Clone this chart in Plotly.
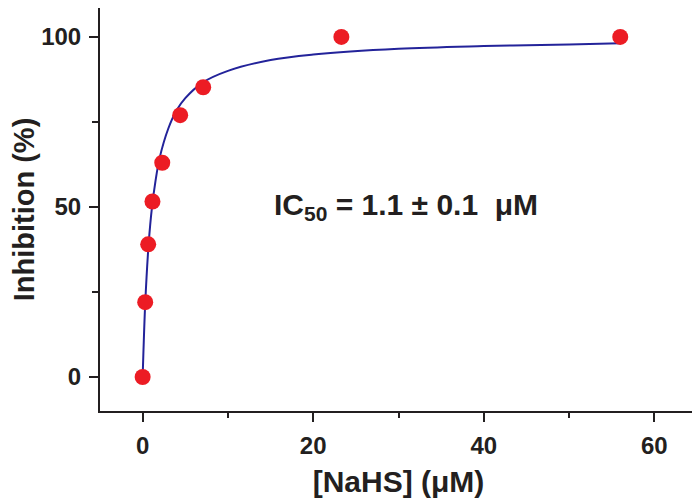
import plotly.graph_objects as go

# measured points
nahs_um = [0, 0.3, 0.65, 1.15, 2.3, 4.4, 7.1, 23.3, 56]
inhibition = [0, 22, 39, 51.6, 63, 77, 85.2, 100, 100]

# fitted curve
fit_x = [0, 0.1, 0.3, 0.7, 1.1, 1.5, 2, 3, 4, 5, 7, 10, 15, 20, 30, 40, 50, 56]
fit_y = [0, 8, 21.5, 39, 50, 57.5, 64.5, 73, 78.5, 82, 86.5, 90, 93.2, 94.8, 96.5, 97.3, 97.8, 98.1]

ink = "#231F20"
font_name = "Liberation Sans, Arial"

fig = go.Figure()
fig.add_trace(go.Scatter(x=fit_x, y=fit_y, mode="lines", line_shape="spline",
                         line=dict(color="#23239A", width=2), showlegend=False))
fig.add_trace(go.Scatter(x=nahs_um, y=inhibition, mode="markers",
                         marker=dict(color="#EC1C24", size=16), showlegend=False))

fig.add_annotation(x=30.9, y=50, xref="x", yref="y", showarrow=False,
                   text="<b>IC<sub>50</sub> = 1.1 ± 0.1  μM</b>",
                   font=dict(family=font_name, size=30, color=ink))

axis_common = dict(showline=True, linecolor=ink, linewidth=2, mirror=True,
                   ticks="outside", tickwidth=1.5, tickcolor=ink, ticklen=9,
                   showgrid=False, zeroline=False, automargin=False,
                   tickfont=dict(family=font_name, size=24, color=ink, weight="bold"))

# page body adds an 8px offset, so the figure is sized to the remaining window
fig.update_xaxes(range=[-5, 65], tickvals=[0, 20, 40, 60], ticklabelstandoff=3,
                 minor=dict(tickvals=[10, 30, 50], ticks="outside", ticklen=5,
                            tickwidth=1.5, tickcolor=ink),
                 title=dict(text="[NaHS] (μM)",
                            font=dict(family=font_name, size=30, color=ink, weight="bold")),
                 **axis_common)
fig.update_yaxes(range=[-10, 108.5], tickvals=[0, 50, 100], ticklabelstandoff=3,
                 minor=dict(tickvals=[25, 75], ticks="outside", ticklen=6,
                            tickwidth=1.5, tickcolor=ink),
                 title=dict(text="Inhibition (%)",
                            font=dict(family=font_name, size=29, color=ink, weight="bold")),
                 **axis_common)

fig.update_layout(width=692, height=490, template="plotly_white",
                  plot_bgcolor="white", paper_bgcolor="white",
                  margin=dict(l=92, r=3, t=0, b=87))

fig.write_html("out.html")
